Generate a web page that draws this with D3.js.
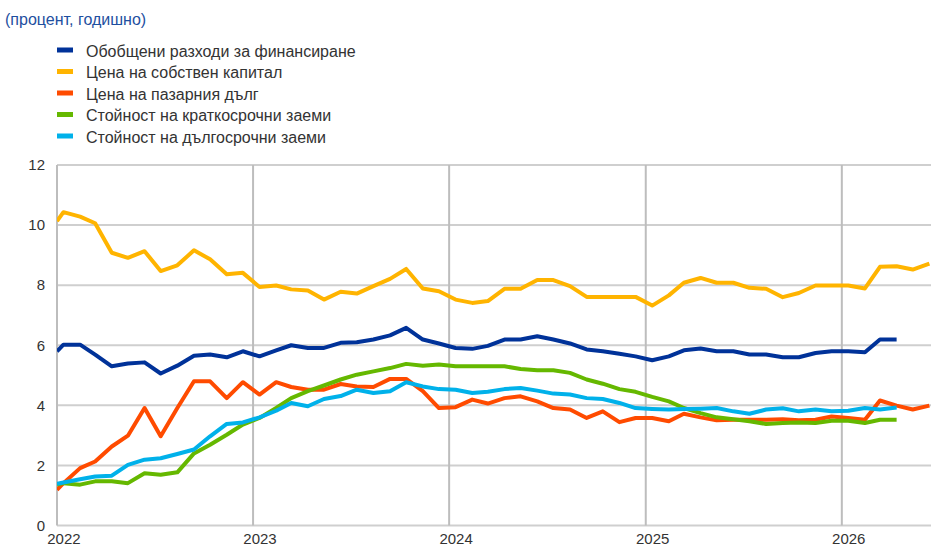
<!DOCTYPE html>
<html>
<head>
<meta charset="utf-8">
<script src="https://cdn.jsdelivr.net/npm/d3@7"></script>
<style>
  body { margin: 0; background: #fff; }
  svg { display: block; font-family: "Liberation Sans", Arial, sans-serif; }
</style>
</head>
<body>
<svg width="931" height="551"></svg>
<script>
// series labels and colours (legend order)
var seriesNames = [
  "Обобщени разходи за финансиране",
  "Цена на собствен капитал",
  "Цена на пазарния дълг",
  "Стойност на краткосрочни заеми",
  "Стойност на дългосрочни заеми"
];
var seriesColors = ["#003299", "#ffb400", "#ff4b00", "#65b800", "#00b1ea"];

// first value sits on the left edge (1 Jan 2022), the rest are monthly observations
var totalCost = [5.8, 6.02, 6.02, 5.69, 5.3, 5.39, 5.43, 5.06, 5.32, 5.65,
  5.69, 5.6, 5.8, 5.63, 5.83, 6.0, 5.91, 5.91, 6.08,
  6.1, 6.19, 6.33, 6.58, 6.19, 6.06, 5.91, 5.88, 5.98,
  6.19, 6.19, 6.3, 6.19, 6.06, 5.86, 5.8, 5.72, 5.63,
  5.5, 5.63, 5.83, 5.89, 5.8, 5.8, 5.69, 5.69, 5.6,
  5.6, 5.74, 5.8, 5.8, 5.77, 6.19, 6.19];
var equityCost = [10.13, 10.43, 10.28, 10.06, 9.08, 8.91, 9.13, 8.47, 8.66, 9.16,
  8.86, 8.36, 8.41, 7.94, 7.99, 7.86, 7.82, 7.52, 7.78,
  7.72, 7.97, 8.21, 8.54, 7.89, 7.8, 7.52, 7.41, 7.47,
  7.88, 7.88, 8.17, 8.17, 7.97, 7.61, 7.61, 7.61, 7.61,
  7.32, 7.66, 8.08, 8.24, 8.08, 8.08, 7.91, 7.88, 7.6,
  7.74, 7.99, 7.99, 7.99, 7.89, 8.61, 8.63, 8.52, 8.72];
var debtCost = [1.19, 1.41, 1.91, 2.13, 2.63, 2.99, 3.91, 2.97, 3.91, 4.8,
  4.8, 4.24, 4.77, 4.36, 4.77, 4.61, 4.52, 4.52, 4.71,
  4.63, 4.61, 4.88, 4.88, 4.47, 3.91, 3.94, 4.19, 4.06,
  4.24, 4.3, 4.13, 3.91, 3.86, 3.58, 3.8, 3.44, 3.58,
  3.58, 3.47, 3.72, 3.6, 3.5, 3.52, 3.52, 3.52, 3.54,
  3.5, 3.52, 3.63, 3.58, 3.52, 4.16, 3.99, 3.86, 3.99];
var shortLoans = [1.36, 1.41, 1.36, 1.47, 1.47, 1.41, 1.74, 1.69, 1.77, 2.4,
  2.69, 3.02, 3.36, 3.58, 3.91, 4.24, 4.47, 4.66, 4.86,
  5.02, 5.13, 5.24, 5.38, 5.32, 5.36, 5.3, 5.3, 5.3,
  5.3, 5.21, 5.17, 5.17, 5.08, 4.86, 4.72, 4.54, 4.45,
  4.28, 4.13, 3.91, 3.74, 3.6, 3.54, 3.47, 3.38, 3.41,
  3.43, 3.41, 3.49, 3.49, 3.41, 3.52, 3.52];
var longLoans = [1.39, 1.43, 1.54, 1.63, 1.66, 2.02, 2.19, 2.24, 2.38, 2.53,
  2.97, 3.38, 3.43, 3.6, 3.82, 4.08, 3.97, 4.21, 4.31,
  4.52, 4.41, 4.47, 4.77, 4.63, 4.54, 4.52, 4.41, 4.45,
  4.54, 4.58, 4.49, 4.39, 4.36, 4.24, 4.21, 4.08, 3.91,
  3.88, 3.86, 3.88, 3.89, 3.91, 3.8, 3.72, 3.86, 3.9,
  3.8, 3.86, 3.8, 3.82, 3.91, 3.86, 3.93];

var yTicks = [0, 2, 4, 6, 8, 10, 12];
var yearTicks = [2022, 2023, 2024, 2025, 2026];

var allSeries = [totalCost, equityCost, debtCost, shortLoans, longLoans];

// dates: left edge, then mid-month points
function dateAt(i) {
  return i === 0 ? new Date(2022, 0, 1) : new Date(2022, i - 1, 13);
}

var margin = {left: 57, right: 0, top: 165, bottom: 25};
var width = 931, height = 551;

var svg = d3.select("svg");

var x = d3.scaleTime()
    .domain([new Date(2022, 0, 1), new Date(2026, 5, 16)])
    .range([margin.left, width - margin.right]);

var y = d3.scaleLinear()
    .domain([0, 12])
    .range([height - margin.bottom - 0.5, margin.top]);

// title
svg.append("text")
    .attr("x", 5)
    .attr("y", 25)
    .style("font-size", "16px")
    .style("fill", "#1e4fa0")
    .text("(процент, годишно)");

// legend
var legend = svg.selectAll("g.legend")
    .data(seriesNames)
  .enter().append("g")
    .attr("class", "legend")
    .attr("transform", function(d, i) { return "translate(57," + (51 + i * 21.5) + ")"; });

legend.append("rect")
    .attr("x", 0).attr("y", -3.5)
    .attr("width", 16).attr("height", 5)
    .style("fill", function(d, i) { return seriesColors[i]; });

legend.append("text")
    .attr("x", 29)
    .attr("dy", "0.35em")
    .style("font-size", "16px")
    .style("fill", "#333")
    .text(function(d) { return d; });

// horizontal gridlines
svg.append("g")
  .selectAll("line")
    .data(yTicks)
  .enter().append("line")
    .attr("x1", margin.left)
    .attr("x2", width)
    .attr("y1", function(d) { return y(d); })
    .attr("y2", function(d) { return y(d); })
    .style("stroke", "#cfcfcf")
    .style("stroke-width", 2);

// vertical gridlines at year starts
svg.append("g")
  .selectAll("line")
    .data(yearTicks)
  .enter().append("line")
    .attr("x1", function(d) { return x(new Date(d, 0, 1)); })
    .attr("x2", function(d) { return x(new Date(d, 0, 1)); })
    .attr("y1", y(12))
    .attr("y2", y(0))
    .style("stroke", "#bdbdbd")
    .style("stroke-width", 2);

// y axis labels
var yAxis = svg.append("g")
    .attr("transform", "translate(" + (margin.left - 12) + ",0)")
    .call(d3.axisLeft(y).tickValues(yTicks).tickSize(0).tickPadding(0));
yAxis.select(".domain").remove();
yAxis.selectAll("text")
    .style("font-size", "15px")
    .style("fill", "#333")
    .style("font-family", "'Liberation Sans', Arial, sans-serif");

// x axis labels, centred on the first observation of each year
var xAxis = svg.append("g")
    .attr("transform", "translate(0," + (y(0) + 5) + ")")
    .call(d3.axisBottom(x)
      .tickValues(yearTicks.map(function(d) { return new Date(d, 0, 13); }))
      .tickFormat(d3.timeFormat("%Y"))
      .tickSize(0).tickPadding(3));
xAxis.select(".domain").remove();
xAxis.selectAll("text")
    .style("font-size", "15px")
    .style("fill", "#333")
    .style("font-family", "'Liberation Sans', Arial, sans-serif");

svg.append("clipPath")
    .attr("id", "plot")
  .append("rect")
    .attr("x", margin.left).attr("y", 0)
    .attr("width", width - margin.left).attr("height", height);

var line = d3.line()
    .x(function(d, i) { return x(dateAt(i)); })
    .y(function(d) { return y(d); });

svg.append("g")
    .attr("clip-path", "url(#plot)")
  .selectAll("path")
    .data(allSeries)
  .enter().append("path")
    .attr("d", line)
    .style("fill", "none")
    .style("stroke", function(d, i) { return seriesColors[i]; })
    .style("stroke-width", 4)
    .style("stroke-linejoin", "round");
</script>
</body>
</html>
